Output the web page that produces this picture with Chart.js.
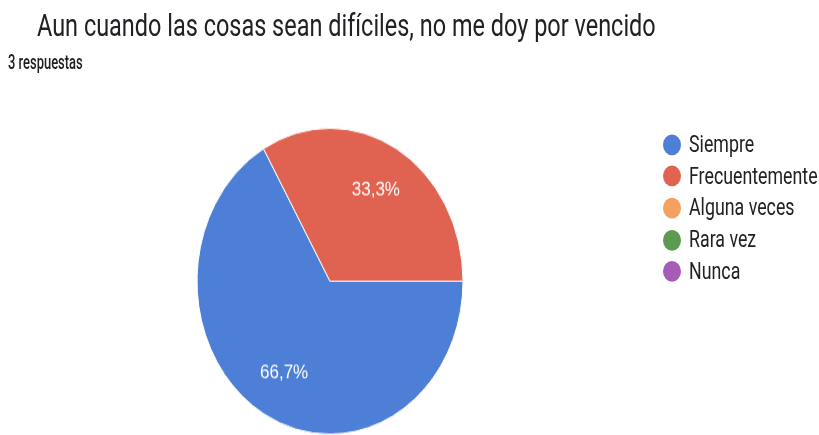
<!DOCTYPE html>
<html lang="es">
<head>
<meta charset="utf-8">
<title>Aun cuando las cosas sean difíciles, no me doy por vencido</title>
<script src="https://cdn.jsdelivr.net/npm/chart.js@4.4.0/dist/chart.umd.min.js"></script>
<style>
  html, body { margin: 0; padding: 0; background: #ffffff; }
  body { width: 819px; height: 435px; overflow: hidden; font-family: 'Roboto', sans-serif; color: #202124; }
  /* la lámina se estira un poco en vertical, como la hoja fotografiada */
  #lamina { position: relative; width: 819px; height: 378px; transform: scaleY(1.15); transform-origin: 0 0; }
  #grafico { position: absolute; left: 0; top: 0; }
  .texto { position: absolute; line-height: 1; white-space: nowrap; transform-origin: 0 0; }
  #titulo { left: 37px; top: 9px; font-size: 27px; transform: scaleX(0.869); }
  #respuestas { left: 8px; top: 45px; font-size: 18px; font-weight: 500; transform: scaleX(0.72); }
  #leyenda { position: absolute; left: 663px; top: 112px; margin: 0; padding: 0; list-style: none; }
  #leyenda li { display: flex; align-items: center; height: 27.6px; }
  #leyenda .punto { width: 18px; height: 18px; border-radius: 50%; margin-right: 8px; flex: none; }
  #leyenda .nombre { font-size: 21px; line-height: 1; white-space: nowrap; transform: scaleX(0.847); transform-origin: 0 50%; }
</style>
</head>
<body>
<div id="lamina">
  <canvas id="grafico" width="819" height="378"></canvas>
  <div id="titulo" class="texto">Aun cuando las cosas sean difíciles, no me doy por vencido</div>
  <div id="respuestas" class="texto">3 respuestas</div>
  <ul id="leyenda"></ul>
</div>
<script>
// Respuestas de la pregunta
const categorias = ['Siempre', 'Frecuentemente', 'Alguna veces', 'Rara vez', 'Nunca'];
const respuestas = [2, 1, 0, 0, 0];
const colores = ['#4e7fd6', '#df6350', '#f5a063', '#5b9a4f', '#a75cb8'];

// Escribe el porcentaje de cada porción dentro del pie
const etiquetasPorcentaje = {
    id: 'etiquetasPorcentaje',
    afterDatasetsDraw(chart) {
        const ctx = chart.ctx;
        const meta = chart.getDatasetMeta(0);
        const total = respuestas.reduce((a, b) => a + b, 0);
        ctx.save();
        ctx.font = '17px "Liberation Sans", Arial, sans-serif';
        ctx.fillStyle = '#ffffff';
        ctx.textAlign = 'center';
        ctx.textBaseline = 'middle';
        meta.data.forEach((arco, i) => {
            if (!respuestas[i]) return;
            const p = arco.getProps(['x', 'y', 'startAngle', 'endAngle', 'outerRadius'], true);
            const medio = (p.startAngle + p.endAngle) / 2;
            const r = p.outerRadius * 0.69;
            const texto = (respuestas[i] / total * 100).toFixed(1).replace('.', ',') + '%';
            ctx.fillText(texto, p.x + Math.cos(medio) * r, p.y + Math.sin(medio) * r);
        });
        ctx.restore();
    }
};

// Leyenda en HTML con los elementos que genera Chart.js
function llenarLeyenda(chart) {
    const lista = document.getElementById('leyenda');
    const items = chart.options.plugins.legend.labels.generateLabels(chart);
    lista.innerHTML = '';
    items.forEach(item => {
        const li = document.createElement('li');
        const punto = document.createElement('span');
        punto.className = 'punto';
        punto.style.background = item.fillStyle;
        const nombre = document.createElement('span');
        nombre.className = 'nombre';
        nombre.textContent = item.text;
        li.appendChild(punto);
        li.appendChild(nombre);
        lista.appendChild(li);
    });
}

function dibujarPie() {
    const ctx = document.getElementById('grafico').getContext('2d');
    const pie = new Chart(ctx, {
        type: 'pie',
        data: {
            labels: categorias,
            datasets: [{
                data: respuestas,
                backgroundColor: colores,
                borderColor: '#ffffff',
                borderWidth: 1
            }]
        },
        options: {
            responsive: false,
            animation: false,
            rotation: 90,
            layout: { padding: { top: 111, left: 2, right: 161, bottom: 0 } },
            plugins: {
                tooltip: { enabled: false },
                legend: { display: false }
            }
        },
        plugins: [etiquetasPorcentaje]
    });
    llenarLeyenda(pie);
}

window.addEventListener('DOMContentLoaded', dibujarPie);
</script>
</body>
</html>
